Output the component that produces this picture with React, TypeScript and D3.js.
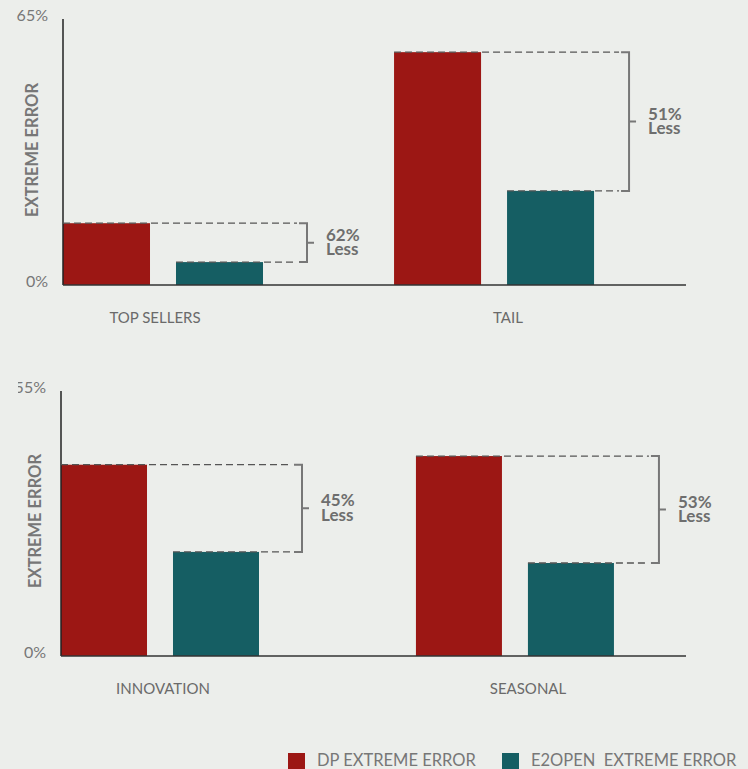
import React from "react";
import * as d3 from "d3";

// ---------- data ----------
const seriesNames = ["DP EXTREME ERROR", "E2OPEN  EXTREME ERROR"];
const seriesKeys = ["dp", "e2"];

const topCategories = ["TOP SELLERS", "TAIL"];
const topDP = [15.1, 56.9];
const topE2 = [5.6, 23.0];
const topReduction = ["62%", "51%"];
const topTicks = ["0%", "65%"];
const topMax = 65;

const bottomCategories = ["INNOVATION", "SEASONAL"];
const bottomDP = [39.7, 41.5];
const bottomE2 = [21.6, 19.3];
const bottomReduction = ["45%", "53%"];
const bottomTicks = ["0%", "55%"];
const bottomMax = 55;

const axisTitle = "EXTREME ERROR";
const lessWord = "Less";

// ---------- style ----------
const W = 748;
const H = 769;
const BG = "#eceeeb";
const RED = "#9c1714";
const TEAL = "#155e63";
const GRAY = "#777777";
const FONT = "Lato, 'Open Sans', sans-serif";
const colors = [RED, TEAL];

type PanelProps = {
  categories: string[];
  dp: number[];
  e2: number[];
  reduction: string[];
  ticks: string[];
  max: number;
  axisX: number;
  topY: number;
  baseY: number;
  endX: number;
  groupEnd: number;
  groupPad: number;
  innerWidth: number;
  innerPad: number;
  titleX: number;
  titleY: number;
  catY: number;
  labelRange: [number, number];
  bracketOffsets: number[];
  clipTick?: boolean;
  id: string;
};

function Panel(p: PanelProps) {
  const y = d3.scaleLinear().domain([0, p.max]).range([p.baseY, p.topY]);
  const x0 = d3
    .scaleBand<string>()
    .domain(p.categories)
    .range([p.axisX, p.groupEnd])
    .paddingInner(p.groupPad)
    .paddingOuter(0);
  const x1 = d3
    .scaleBand<string>()
    .domain(seriesKeys)
    .range([0, p.innerWidth])
    .paddingInner(p.innerPad)
    .paddingOuter(0);
  const xl = d3.scalePoint<string>().domain(p.categories).range(p.labelRange);

  const vals = [p.dp, p.e2];
  const tickVals = [0, p.max];

  return (
    <g>
      {p.clipTick && (
        <defs>
          <clipPath id={p.id + "-clip"} clipPathUnits="userSpaceOnUse">
            <rect x={18} y={0} width={W} height={H} />
          </clipPath>
        </defs>
      )}
      {/* bars */}
      {p.categories.map((c, i) => (
        <g key={c} transform={`translate(${x0(c)},0)`}>
          {seriesKeys.map((k, j) => (
            <rect
              key={k}
              x={x1(k)}
              y={y(vals[j][i])}
              width={x1.bandwidth()}
              height={p.baseY - y(vals[j][i])}
              fill={colors[j]}
            />
          ))}
        </g>
      ))}
      {/* axes */}
      <line x1={p.axisX} x2={p.axisX} y1={p.topY} y2={p.baseY} stroke="#222" strokeWidth={1.5} />
      <line x1={p.axisX} x2={p.endX} y1={p.baseY} y2={p.baseY} stroke="#333" strokeWidth={1.5} />
      {tickVals.map((v, i) => (
        <g key={i} clipPath={p.clipTick && i === 1 ? `url(#${p.id}-clip)` : undefined}>
          <text
            x={p.axisX - 15}
            y={y(v) + 2}
            textAnchor="end"
            fontFamily={FONT}
            fontSize={16}
            fill={GRAY}
          >
            {p.ticks[i]}
          </text>
        </g>
      ))}
      <text
        transform={`translate(${p.titleX},${p.titleY}) rotate(-90)`}
        textAnchor="middle"
        fontFamily={FONT}
        fontWeight={700}
        fontSize={16.5}
        fill={GRAY}
      >
        {axisTitle}
      </text>
      {/* category labels */}
      {p.categories.map((c) => (
        <text
          key={c}
          x={xl(c)}
          y={p.catY}
          textAnchor="middle"
          fontFamily={FONT}
          fontSize={15}
          fill="#6a6a6a"
        >
          {c}
        </text>
      ))}
      {/* annotations */}
      {p.categories.map((c, i) => {
        const gx = x0(c) as number;
        const yDP = y(p.dp[i]);
        const yE2 = y(p.e2[i]);
        const bx = gx + p.innerWidth + p.bracketOffsets[i];
        const mid = (yDP + yE2) / 2;
        return (
          <g key={c}>
            <line
              x1={gx + (x1("dp") as number)}
              x2={bx - 10}
              y1={yDP}
              y2={yDP}
              stroke="#555"
              strokeWidth={1.3}
              strokeDasharray="7 4"
            />
            <line
              x1={gx + (x1("e2") as number)}
              x2={bx - 10}
              y1={yE2}
              y2={yE2}
              stroke="#555"
              strokeWidth={1.3}
              strokeDasharray="7 4"
            />
            <path
              d={`M${bx - 8},${yDP} H${bx} V${yE2} H${bx - 8} M${bx},${mid} H${bx + 7}`}
              fill="none"
              stroke={GRAY}
              strokeWidth={2}
            />
            <text
              x={bx + 19}
              y={mid - 2}
              fontFamily={FONT}
              fontWeight={700}
              fontSize={17}
              fill="#6e6e6e"
            >
              {p.reduction[i]}
            </text>
            <text
              x={bx + 19}
              y={mid + 12.5}
              fontFamily={FONT}
              fontWeight={700}
              fontSize={17}
              fill="#6e6e6e"
            >
              {lessWord}
            </text>
          </g>
        );
      })}
    </g>
  );
}

export default function App() {
  const legendX = [288, 502];
  return (
    <div style={{ position: "fixed", left: 0, top: 0 }}>
      <svg width={W} height={H} style={{ display: "block" }}>
        <rect width={W} height={H} fill={BG} />
        <Panel
          id="top"
          categories={topCategories}
          dp={topDP}
          e2={topE2}
          reduction={topReduction}
          ticks={topTicks}
          max={topMax}
          axisX={63}
          topY={19}
          baseY={285}
          endX={686}
          groupEnd={595}
          groupPad={0.393}
          innerWidth={200}
          innerPad={0.23}
          titleX={38}
          titleY={150}
          catY={323}
          labelRange={[155, 508]}
          bracketOffsets={[44, 35]}
        />
        <Panel
          id="bottom"
          categories={bottomCategories}
          dp={bottomDP}
          e2={bottomE2}
          reduction={bottomReduction}
          ticks={bottomTicks}
          max={bottomMax}
          axisX={61}
          topY={391}
          baseY={656}
          endX={686}
          groupEnd={614}
          groupPad={0.442}
          innerWidth={198}
          innerPad={0.232}
          titleX={41}
          titleY={521}
          catY={694}
          labelRange={[163, 528]}
          bracketOffsets={[43, 45]}
          clipTick
        />
        {/* legend */}
        {seriesNames.map((s, i) => (
          <g key={s}>
            <rect x={legendX[i]} y={753} width={17} height={17} fill={colors[i]} />
            <text
              x={legendX[i] + 29}
              y={766}
              fontFamily={FONT}
              fontSize={16.5}
              fill={GRAY}
              style={{ whiteSpace: "pre" }}
            >
              {s}
            </text>
          </g>
        ))}
      </svg>
    </div>
  );
}
